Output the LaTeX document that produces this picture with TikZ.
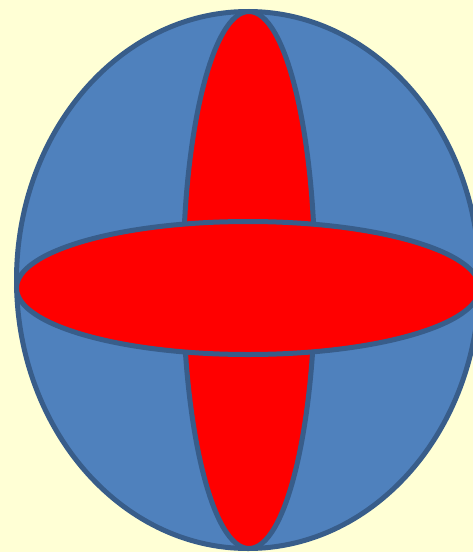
\documentclass[tikz,border=0pt]{standalone}
\definecolor{bg}{HTML}{FFFFD5}
\definecolor{bluefill}{HTML}{4F81BD}
\definecolor{edge}{HTML}{385D8A}
\definecolor{redfill}{HTML}{FF0000}
\tikzset{ovalshape/.style={draw=edge, line width=5pt}}
\begin{document}
\begin{tikzpicture}[x=1pt,y=-1pt]
\useasboundingbox (0,0) rectangle (473,552);
\fill[bg] (0,0) rectangle (473,552);
\clip (0,0) rectangle (473,552);
\path[ovalshape, fill=bluefill] (248,280) ellipse [x radius=231.5, y radius=268.5];
\path[ovalshape, fill=redfill] (249,280) ellipse [x radius=66, y radius=268.5];
\path[ovalshape, fill=redfill] (248,288) ellipse [x radius=231.5, y radius=66.5];
\end{tikzpicture}
\end{document}
